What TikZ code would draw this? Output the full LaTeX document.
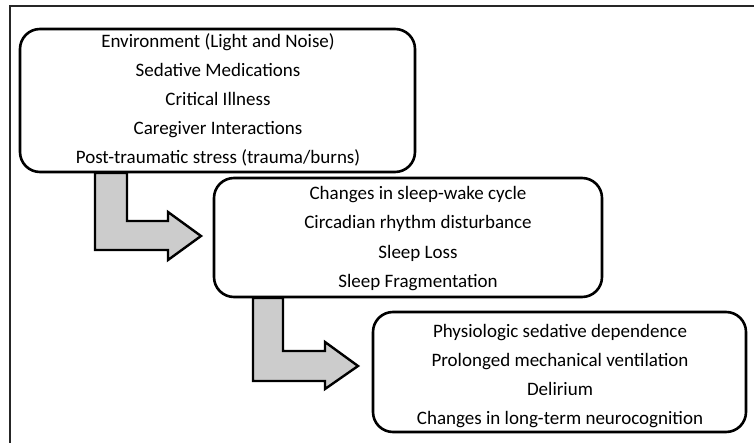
\documentclass[tikz,border=0pt]{standalone}
\usepackage{fontspec}
\setmainfont{Carlito}
\begin{document}
\begin{tikzpicture}[x=1pt,y=-1pt,
  box/.style={draw=black,line width=2.6pt,rounded corners=20pt},
  bigarrow/.style={draw=black,line width=2.4pt,fill=black!20,line join=miter},
  txt/.style={font=\fontsize{19}{21}\selectfont,inner sep=0pt,anchor=base}]
\useasboundingbox (0,0) rectangle (754,443);
\draw[line width=1.3pt,black!85] (10,443) -- (10,6) -- (754,6);
% boxes
\draw[box] (20,29) rectangle (415,172);
\draw[box] (214,178) rectangle (602,297);
\draw[box] (373,312) rectangle (746,432);
% arrows
\draw[bigarrow] (95,173) -- (127,173) -- (127,221) -- (168,221) -- (168,212) -- (201,236) -- (168,260) -- (168,250) -- (95,250) -- cycle;
\draw[bigarrow] (253,298) -- (283,298) -- (283,351) -- (325,351) -- (325,342) -- (358,366) -- (325,389) -- (325,381) -- (253,381) -- cycle;
% texts
\node[txt] (a1) at (218,48) {Environment (Light and Noise)};
\node[txt] (a2) at (218,77) {Sedative Medications};
\node[txt] (a3) at (218,106) {Critical Illness};
\node[txt] (a4) at (218,135) {Caregiver Interactions};
\node[txt] (a5) at (218,163.5) {Post-traumatic stress (trauma/burns)};
\node[txt] (b1) at (418,200) {Changes in sleep-wake cycle};
\node[txt] (b2) at (418,229) {Circadian rhythm disturbance};
\node[txt] (b3) at (418,258.5) {Sleep Loss};
\node[txt] (b4) at (418,287.5) {Sleep Fragmentation};
\node[txt] (c1) at (560,337) {Physiologic sedative dependence};
\node[txt] (c2) at (560,366) {Prolonged mechanical ventilation};
\node[txt] (c3) at (560,395) {Delirium};
\node[txt] (c4) at (560,424) {Changes in long-term neurocognition};
\end{tikzpicture}
\end{document}
